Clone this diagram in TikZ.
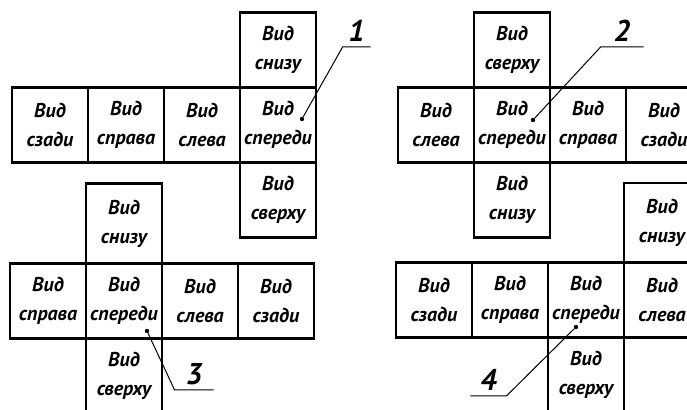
\documentclass[tikz,border=0pt]{standalone}
\usepackage{fontspec}
\setmainfont{PT Sans}
\usetikzlibrary{positioning}
\tikzset{
  vcell/.style={draw, line width=1.4pt, minimum width=38pt, minimum height=37.5pt,
                inner sep=0pt, outer sep=0pt, align=center,
                font=\fontsize{10}{14.5}\selectfont\bfseries\itshape},
  leader/.style={line width=0.5pt},
  ldot/.style={circle, fill, inner sep=0pt, minimum size=2.2pt},
  numlab/.style={font=\fontsize{15}{15}\selectfont\bfseries\itshape, anchor=south,
                 inner xsep=0pt, inner ysep=2.5pt, text depth=0pt},
}
\begin{document}
\begin{tikzpicture}[x=0.5pt,y=-0.5pt,line cap=round]
  \useasboundingbox (0,0) rectangle (687,410);
  \clip (0,0) rectangle (687,410);
  % ---- 1 ----
  \foreach \t [count=\i] in {сзади,справа,слева,спереди}
    \node[vcell] (a\i) at (12+76*\i-38,125) {Вид\\\t};
  \node[vcell] (a5) at (278,50) {Вид\\снизу};
  \node[vcell] (a6) at (278,200) {Вид\\сверху};
  % ---- 2 ----
  \foreach \t [count=\i] in {слева,спереди,справа,сзади}
    \node[vcell] (b\i) at (398+76*\i-38,125) {Вид\\\t};
  \node[vcell] (b5) at (512,50) {Вид\\сверху};
  \node[vcell] (b6) at (512,200) {Вид\\снизу};
  % ---- 3 ----
  \foreach \t [count=\i] in {справа,спереди,слева,сзади}
    \node[vcell] (c\i) at (10+76*\i-38,301) {Вид\\\t};
  \node[vcell, minimum height=40pt] (c5) at (124,223.5) {Вид\\снизу};
  \node[vcell] (c6) at (124,376) {Вид\\сверху};
  % ---- 4 ----
  \foreach \t [count=\i] in {сзади,справа,спереди,слева}
    \node[vcell] (d\i) at (396+76*\i-38,300) {Вид\\\t};
  \node[vcell, minimum height=39.5pt] (d5) at (662,222.5) {Вид\\снизу};
  \node[vcell] (d6) at (586,375) {Вид\\сверху};
  % позиции
  \node[ldot] (p1) at (302,119) {};
  \node[ldot] (p2) at (533,120) {};
  \node[ldot] (p3) at (147,331) {};
  \node[ldot] (p4) at (576,327) {};
  \node[numlab, minimum width=13.5pt] (n1) at (356.5,47) {1};
  \node[numlab, minimum width=21pt] (n2) at (622,47) {2};
  \node[numlab, minimum width=19pt] (n3) at (194,390) {3};
  \node[numlab, minimum width=17.5pt] (n4) at (488.5,396) {4};
  \draw[leader] (p1) -- (n1.south west) -- (n1.south east);
  \draw[leader] (p2) -- (n2.south west) -- (n2.south east);
  \draw[leader] (p3) -- (n3.south west) -- (n3.south east);
  \draw[leader] (p4) -- (n4.south east) -- (n4.south west);
\end{tikzpicture}
\end{document}
